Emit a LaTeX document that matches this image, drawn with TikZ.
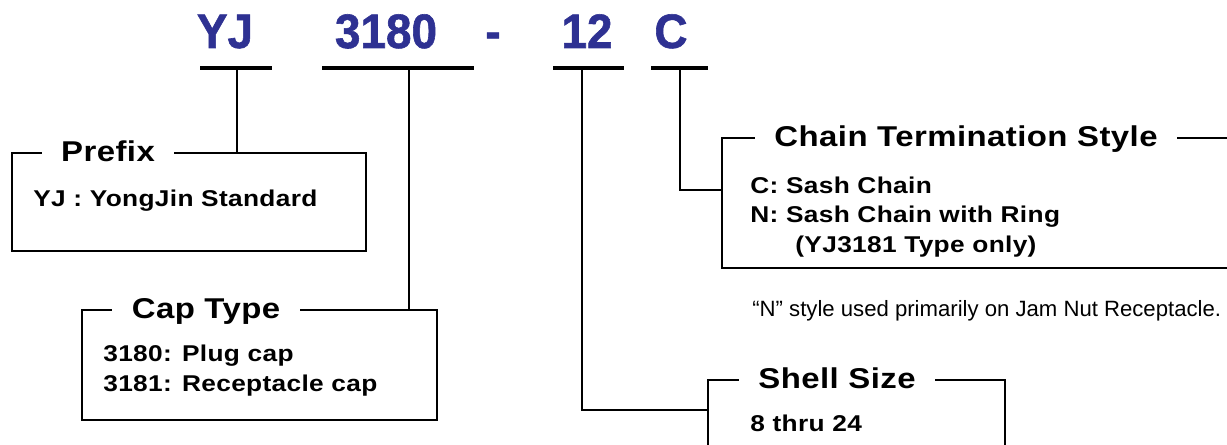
\documentclass[tikz,border=0pt]{standalone}
\usepackage{fontspec}
\setmainfont{Liberation Sans}
\newfontfamily\widefont[FakeStretch=1.15,LetterSpace=1.5]{Liberation Sans}
\newfontfamily\codefont[FakeBold=1.2,FakeStretch=0.95]{Liberation Sans}
\definecolor{codeblue}{HTML}{2E3192}
\tikzset{
  code/.style={font=\codefont\fontsize{27.5}{30}\selectfont\bfseries, text=codeblue, inner sep=0, anchor=base},
  bar/.style={line width=2.3pt},
  frame/.style={line width=1.1pt},
  boxtitle/.style={font=\widefont\fontsize{16.3}{18}\selectfont\bfseries, fill=white, inner xsep=11pt, inner ysep=2pt, anchor=base},
  boxtext/.style={font=\widefont\fontsize{13}{15}\selectfont\bfseries, anchor=base west, inner sep=0},
}
\begin{document}
\begin{tikzpicture}[x=0.02cm,y=-0.02cm]
\useasboundingbox (0,0) rectangle (1227,445);
% part number
\node[code] (yj) at (225,48) {YJ};
\node[code] (num) at (386,48) {3180};
\node[code] (dash) at (493,48) {-};
\node[code] (size) at (587,48) {12};
\node[code] (term) at (671,48) {C};
\foreach \lft/\rgt in {200/272, 322/474, 553/624, 651/708}
	\draw[bar] (\lft,68) -- (\rgt,68);
\coordinate (yjbar) at (237,68);
\coordinate (numbar) at (409,68);
\coordinate (sizebar) at (582,68);
\coordinate (termbar) at (680,68);
% prefix
\draw[frame] (12,153) rectangle (366,251);
\node[boxtitle] (prefix) at (108,162) {Prefix};
\node[boxtext] (prefixtxt) at (33,207) {YJ : YongJin Standard};
\coordinate (prefixtop) at (237,153);
\draw[frame] (yjbar) -- (prefixtop);
% cap type
\draw[frame] (82,310) rectangle (437,420);
\node[boxtitle] (cap) at (206,319) {Cap Type};
\node[boxtext] (capa) at (103,362) {3180: Plug cap};
\node[boxtext] (capb) at (103,392) {3181: Receptacle cap};
\coordinate (captop) at (409,310);
\draw[frame] (numbar) -- (captop);
% chain termination
\draw[frame] (1227,138) -- (722,138) -- (722,268) -- (1227,268);
\node[boxtitle] (chain) at (966,147) {Chain Termination Style};
\node[boxtext] (chaina) at (750,194) {C: Sash Chain};
\node[boxtext] (chainb) at (750,223) {N: Sash Chain with Ring};
\node[boxtext] (chainc) at (795,253) {(YJ3181 Type only)};
\coordinate (chainleft) at (722,190);
\draw[frame] (termbar) |- (chainleft);
\node[anchor=base west, inner sep=0, font=\fontsize{12.6}{14}\selectfont] (note) at (752,317) {“N” style used primarily on Jam Nut Receptacle.};
% shell size
\draw[frame] (1005,445) -- (1005,380) -- (708,380) -- (708,445);
\node[boxtitle] (shell) at (837,389) {Shell Size};
\node[boxtext] (shelltxt) at (750,432) {8 thru 24};
\coordinate (shellleft) at (708,410);
\draw[frame] (sizebar) |- (shellleft);
\end{tikzpicture}
\end{document}
